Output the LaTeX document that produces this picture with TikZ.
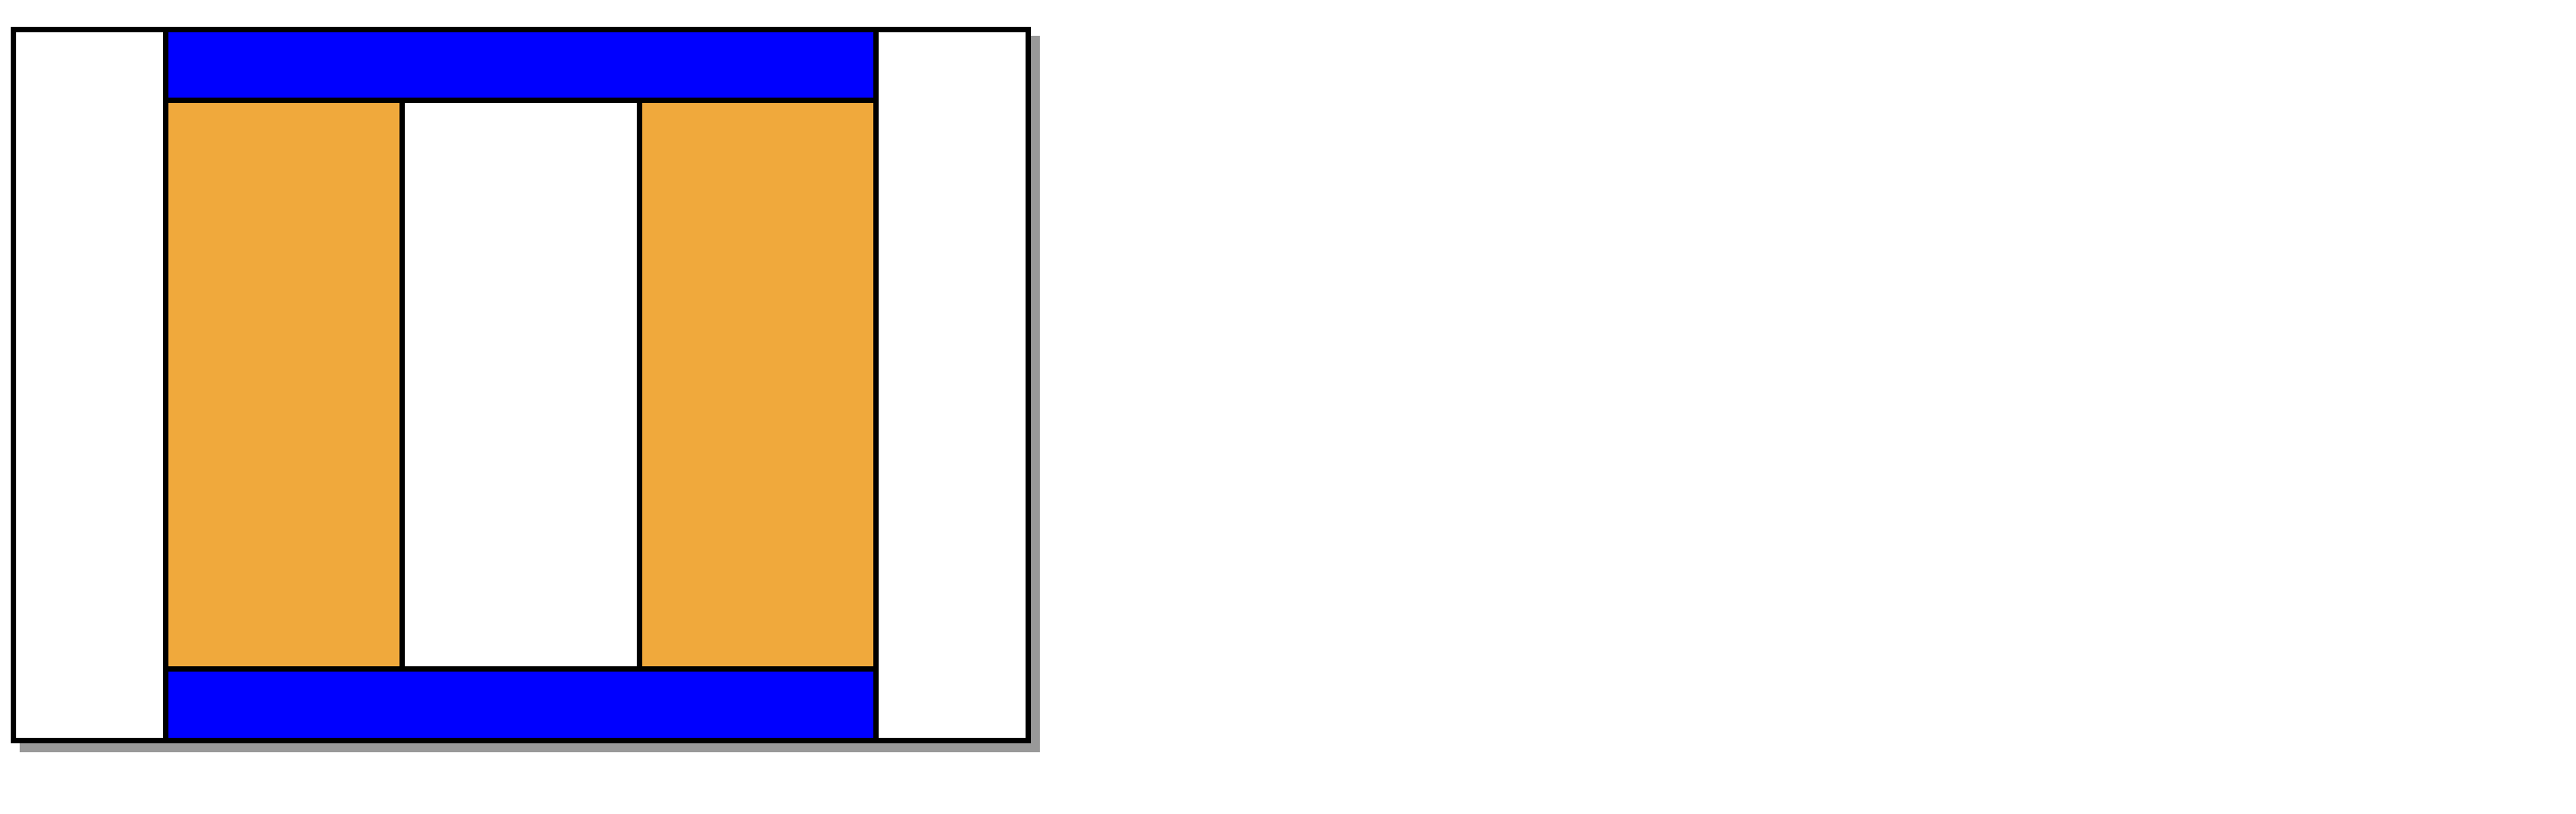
\documentclass[tikz,border=0pt]{standalone}
\definecolor{barblue}{RGB}{0,0,255}
\definecolor{coilorange}{RGB}{240,169,60}
\definecolor{shadowgray}{RGB}{153,153,153}
\tikzset{
  part/.style={draw=black,line width=1.7pt},
  shade/.style={fill=shadowgray},
}
\begin{document}
\begin{tikzpicture}[x=1cm,y=-1cm]
\useasboundingbox (0,0) rectangle (28.76,9.08);
\fill[shade] (0.22,0.40) rectangle (11.61,8.40);
\filldraw[part,fill=white] (0.15,0.33) rectangle (11.48,8.27);
\filldraw[part,fill=barblue] (1.85,0.33) rectangle (9.78,1.12);
\filldraw[part,fill=barblue] (1.85,7.47) rectangle (9.78,8.27);
\filldraw[part,fill=coilorange] (1.85,1.12) rectangle (4.49,7.47);
\filldraw[part,fill=white] (4.49,1.12) rectangle (7.14,7.47);
\filldraw[part,fill=coilorange] (7.14,1.12) rectangle (9.78,7.47);
\end{tikzpicture}
\end{document}
